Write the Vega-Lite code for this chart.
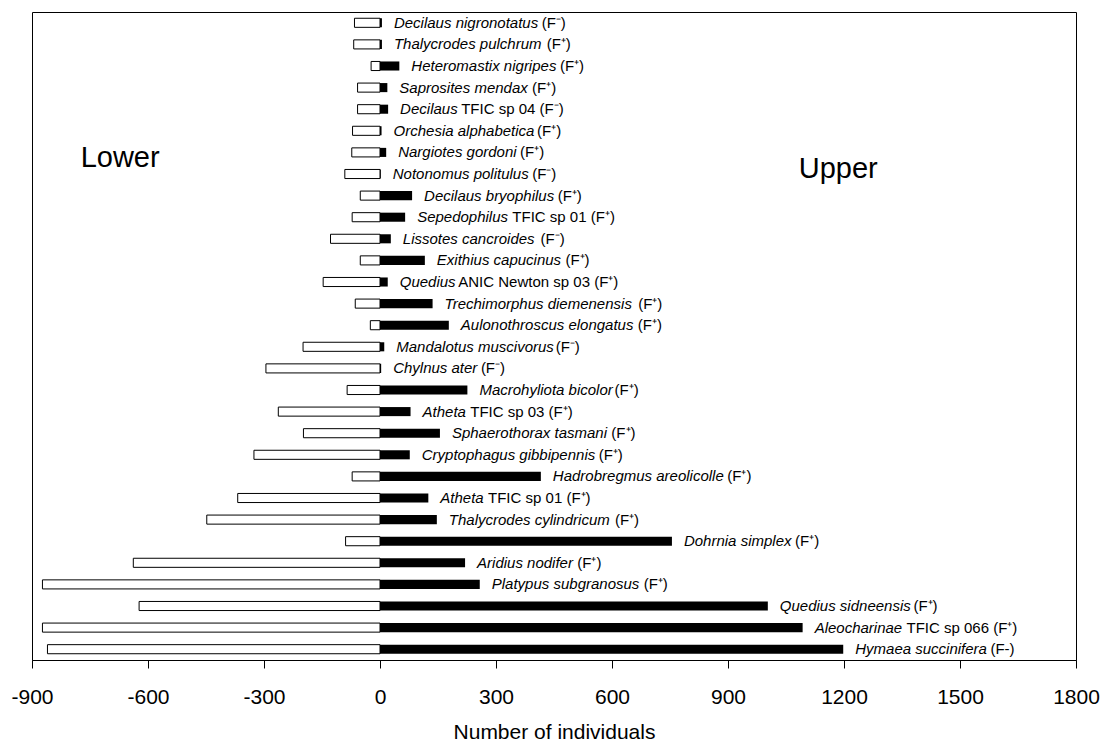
{
  "$schema": "https://vega.github.io/schema/vega-lite/v6.json",
  "width": 1044,
  "height": 648,
  "autosize": "none",
  "padding": {"left": 32, "top": 12, "right": 38, "bottom": 86},
  "background": "#ffffff",
  "config": {
    "font": "Liberation Sans",
    "view": {"stroke": "#000000", "strokeWidth": 1},
    "axis": {"grid": false}
  },
  "data": {
    "values": [
      {"sp": "Decilaus nigronotatus (F⁻)", "it": "Decilaus nigronotatus", "rest": "(F⁻)", "lower": -66, "upper": 5},
      {"sp": "Thalycrodes pulchrum (F⁺)", "it": "Thalycrodes pulchrum", "rest": "(F⁺)", "lower": -68, "upper": 5},
      {"sp": "Heteromastix nigripes (F⁺)", "it": "Heteromastix nigripes", "rest": "(F⁺)", "lower": -23, "upper": 50},
      {"sp": "Saprosites mendax (F⁺)", "it": "Saprosites mendax", "rest": "(F⁺)", "lower": -58, "upper": 19},
      {"sp": "Decilaus TFIC sp 04 (F⁻)", "it": "Decilaus", "rest": "TFIC sp 04 (F⁻)", "lower": -58, "upper": 21},
      {"sp": "Orchesia alphabetica (F⁺)", "it": "Orchesia alphabetica", "rest": "(F⁺)", "lower": -71, "upper": 4},
      {"sp": "Nargiotes gordoni (F⁺)", "it": "Nargiotes gordoni", "rest": "(F⁺)", "lower": -73, "upper": 16},
      {"sp": "Notonomus politulus (F⁻)", "it": "Notonomus politulus", "rest": "(F⁻)", "lower": -91, "upper": 2},
      {"sp": "Decilaus bryophilus (F⁺)", "it": "Decilaus bryophilus", "rest": "(F⁺)", "lower": -51, "upper": 83},
      {"sp": "Sepedophilus TFIC sp 01 (F⁺)", "it": "Sepedophilus", "rest": "TFIC sp 01 (F⁺)", "lower": -72, "upper": 65},
      {"sp": "Lissotes cancroides (F⁻)", "it": "Lissotes cancroides", "rest": "(F⁻)", "lower": -128, "upper": 28},
      {"sp": "Exithius capucinus (F⁺)", "it": "Exithius capucinus", "rest": "(F⁺)", "lower": -51, "upper": 116},
      {"sp": "Quedius ANIC Newton sp 03 (F⁺)", "it": "Quedius", "rest": "ANIC Newton sp 03 (F⁺)", "lower": -147, "upper": 20},
      {"sp": "Trechimorphus diemenensis (F⁺)", "it": "Trechimorphus diemenensis", "rest": "(F⁺)", "lower": -64, "upper": 136},
      {"sp": "Aulonothroscus elongatus (F⁺)", "it": "Aulonothroscus elongatus", "rest": "(F⁺)", "lower": -25, "upper": 178},
      {"sp": "Mandalotus muscivorus (F⁻)", "it": "Mandalotus muscivorus", "rest": "(F⁻)", "lower": -199, "upper": 11},
      {"sp": "Chylnus ater (F⁻)", "it": "Chylnus ater", "rest": "(F⁻)", "lower": -295, "upper": 3},
      {"sp": "Macrohyliota bicolor (F⁺)", "it": "Macrohyliota bicolor", "rest": "(F⁺)", "lower": -85, "upper": 226},
      {"sp": "Atheta TFIC sp 03 (F⁺)", "it": "Atheta", "rest": "TFIC sp 03 (F⁺)", "lower": -263, "upper": 79},
      {"sp": "Sphaerothorax tasmani (F⁺)", "it": "Sphaerothorax tasmani", "rest": "(F⁺)", "lower": -198, "upper": 155},
      {"sp": "Cryptophagus gibbipennis (F⁺)", "it": "Cryptophagus gibbipennis", "rest": "(F⁺)", "lower": -326, "upper": 77},
      {"sp": "Hadrobregmus areolicolle (F⁺)", "it": "Hadrobregmus areolicolle", "rest": "(F⁺)", "lower": -72, "upper": 416},
      {"sp": "Atheta TFIC sp 01 (F⁺)", "it": "Atheta", "rest": "TFIC sp 01 (F⁺)", "lower": -368, "upper": 125},
      {"sp": "Thalycrodes cylindricum (F⁺)", "it": "Thalycrodes cylindricum", "rest": "(F⁺)", "lower": -448, "upper": 147},
      {"sp": "Dohrnia simplex (F⁺)", "it": "Dohrnia simplex", "rest": "(F⁺)", "lower": -89, "upper": 755},
      {"sp": "Aridius nodifer (F⁺)", "it": "Aridius nodifer", "rest": "(F⁺)", "lower": -638, "upper": 220},
      {"sp": "Platypus subgranosus (F⁺)", "it": "Platypus subgranosus", "rest": "(F⁺)", "lower": -873, "upper": 258},
      {"sp": "Quedius sidneensis (F⁺)", "it": "Quedius sidneensis", "rest": "(F⁺)", "lower": -623, "upper": 1003},
      {"sp": "Aleocharinae TFIC sp 066 (F⁺)", "it": "Aleocharinae", "rest": "TFIC sp 066 (F⁺)", "lower": -873, "upper": 1093},
      {"sp": "Hymaea succinifera (F-)", "it": "Hymaea succinifera", "rest": "(F-)", "lower": -860, "upper": 1198}
    ]
  },
  "encoding": {
    "y": {
      "field": "sp",
      "type": "nominal",
      "sort": null,
      "axis": null,
      "scale": {"paddingInner": 0.58, "paddingOuter": 0.29}
    }
  },
  "layer": [
    {
      "mark": {"type": "bar", "fill": "#ffffff", "stroke": "#000000", "strokeWidth": 1},
      "encoding": {
        "x": {
          "field": "lower",
          "type": "quantitative",
          "scale": {"domain": [-900, 1800], "nice": false, "zero": false},
          "axis": {
            "values": [-900, -600, -300, 0, 300, 600, 900, 1200, 1500, 1800],
            "labelExpr": "datum.value < 0 ? '-' + format(-datum.value, 'd') : format(datum.value, 'd')",
            "title": "Number of individuals",
            "titleFontSize": 21,
            "titleFontWeight": "normal",
            "titleColor": "#000000",
            "titlePadding": 14,
            "labelFontSize": 21,
            "labelColor": "#000000",
            "labelPadding": 18,
            "labelFlush": false,
            "labelOverlap": false,
            "tickSize": 8,
            "tickColor": "#000000",
            "domainColor": "#000000",
            "grid": false
          }
        },
        "x2": {"datum": 0}
      }
    },
    {
      "mark": {"type": "bar", "fill": "#000000"},
      "encoding": {
        "x": {"field": "upper", "type": "quantitative"},
        "x2": {"datum": 0}
      }
    },
    {
      "mark": {"type": "text", "align": "left", "baseline": "middle", "fontStyle": "italic", "fontSize": 15, "dx": 12, "color": "#000000"},
      "encoding": {
        "x": {"field": "upper", "type": "quantitative"},
        "text": {"field": "it"}
      }
    },
    {
      "mark": {
        "type": "text",
        "align": "left",
        "baseline": "middle",
        "fontSize": 15,
        "color": "#000000",
        "dx": {"expr": "16 + 15*(556*length(datum.it) - 334*(length(datum.it)-length(replace(datum.it,/[ilj]/g,''))) - 278*(length(datum.it)-length(replace(datum.it,/[ft ]/g,''))) - 223*(length(datum.it)-length(replace(datum.it,/r/g,''))) - 56*(length(datum.it)-length(replace(datum.it,/[cksvxyz]/g,''))) + 166*(length(datum.it)-length(replace(datum.it,/w/g,''))) + 277*(length(datum.it)-length(replace(datum.it,/m/g,''))) + 134*(length(datum.it)-length(replace(datum.it,/[A-Z]/g,''))))/1000"}
      },
      "encoding": {
        "x": {"field": "upper", "type": "quantitative"},
        "text": {"field": "rest"}
      }
    },
    {
      "data": {"values": [{"side": "Lower"}]},
      "mark": {"type": "text", "align": "center", "baseline": "middle", "fontSize": 29, "color": "#000000", "dy": 6},
      "encoding": {
        "x": {"datum": -672, "type": "quantitative"},
        "y": {"datum": "Nargiotes gordoni (F⁺)", "type": "nominal"},
        "text": {"field": "side"}
      }
    },
    {
      "data": {"values": [{"side": "Upper"}]},
      "mark": {"type": "text", "align": "center", "baseline": "middle", "fontSize": 29, "color": "#000000", "dy": -5},
      "encoding": {
        "x": {"datum": 1185, "type": "quantitative"},
        "y": {"datum": "Notonomus politulus (F⁻)", "type": "nominal"},
        "text": {"field": "side"}
      }
    }
  ]
}
